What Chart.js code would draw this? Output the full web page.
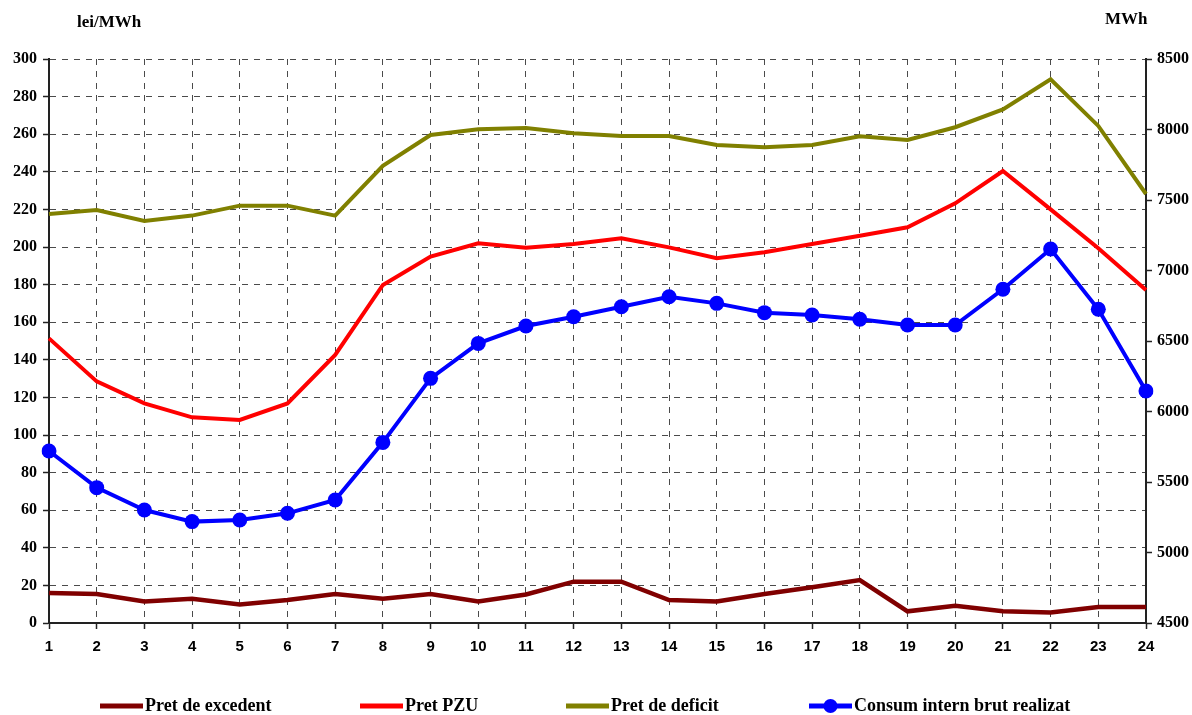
<!DOCTYPE html>
<html>
<head>
<meta charset="utf-8">
<script src="https://cdn.jsdelivr.net/npm/chart.js@4.4.1/dist/chart.umd.min.js"></script>
<style>
  html, body { margin: 0; padding: 0; background: #fff; }
  #wrap { position: relative; width: 1192px; height: 715px; }
</style>
</head>
<body>
<div id="wrap"><canvas id="c" width="1192" height="715"></canvas></div>
<script>
const hours = ['1','2','3','4','5','6','7','8','9','10','11','12','13','14','15','16','17','18','19','20','21','22','23','24'];
const pretExcedent = [16, 15.4, 11.5, 12.9, 9.9, 12.2, 15.4, 12.9, 15.4, 11.5, 15.2, 22, 22, 12.2, 11.5, 15.4, 19, 22.8, 6.2, 9.2, 6.2, 5.6, 8.5, 8.5];
const pretPZU = [151.4, 128.5, 116.8, 109.4, 108, 116.8, 142.6, 179.8, 194.9, 202, 199.6, 201.6, 204.6, 199.8, 194, 197.2, 201.6, 206, 210.5, 223.2, 240.4, 220, 199.3, 177.1];
const pretDeficit = [217.6, 219.7, 213.8, 216.7, 222, 222, 216.7, 243.2, 259.6, 262.6, 263.3, 260.5, 259, 259, 254.3, 253, 254.3, 258.9, 256.9, 263.7, 273.2, 289.2, 264.4, 228.2];
const consumIntern = [5720, 5460, 5301, 5219, 5230, 5278, 5372, 5781, 6235, 6483, 6606, 6672, 6743, 6814, 6767, 6701, 6684, 6654, 6613, 6613, 6867, 7152, 6725, 6145];
const seriesNames = ['Pret de excedent', 'Pret PZU', 'Pret de deficit', 'Consum intern brut realizat'];
const seriesColors = ['#800000', '#FF0000', '#808000', '#0000FF'];
const leftAxisTitle = 'lei/MWh';
const rightAxisTitle = 'MWh';

const serif = '"Liberation Serif", "Times New Roman", serif';
const sans = '"Liberation Sans", Arial, sans-serif';

const extras = {
  id: 'extras',
  afterDraw(chart) {
    const ctx = chart.ctx;
    ctx.save();
    ctx.fillStyle = '#000';
    ctx.font = 'bold 17px ' + serif;
    ctx.textBaseline = 'middle';
    ctx.textAlign = 'left';
    ctx.fillText(leftAxisTitle, 77, 23);
    ctx.fillText(rightAxisTitle, 1105, 20);
    // legend
    ctx.font = 'bold 18px ' + serif;
    const lx = [100, 360, 566, 809];
    const ly = 706;
    for (let i = 0; i < seriesNames.length; i++) {
      ctx.strokeStyle = seriesColors[i];
      ctx.lineWidth = 5;
      ctx.beginPath();
      ctx.moveTo(lx[i], ly);
      ctx.lineTo(lx[i] + 43, ly);
      ctx.stroke();
      if (i === 3) {
        ctx.fillStyle = seriesColors[i];
        ctx.beginPath();
        ctx.arc(lx[i] + 21.5, ly, 7, 0, Math.PI * 2);
        ctx.fill();
      }
      ctx.fillStyle = '#000';
      ctx.fillText(seriesNames[i], lx[i] + 45, ly);
    }
    ctx.restore();
  }
};

const gridColor = '#4a4a4a';

new Chart(document.getElementById('c'), {
  type: 'line',
  data: {
    labels: hours,
    datasets: [
      { label: seriesNames[0], data: pretExcedent, borderColor: seriesColors[0], backgroundColor: seriesColors[0], borderWidth: 4.5, pointRadius: 0, yAxisID: 'y', tension: 0 },
      { label: seriesNames[1], data: pretPZU, borderColor: seriesColors[1], backgroundColor: seriesColors[1], borderWidth: 4, pointRadius: 0, yAxisID: 'y', tension: 0 },
      { label: seriesNames[2], data: pretDeficit, borderColor: seriesColors[2], backgroundColor: seriesColors[2], borderWidth: 4, pointRadius: 0, yAxisID: 'y', tension: 0 },
      { label: seriesNames[3], data: consumIntern, borderColor: seriesColors[3], backgroundColor: seriesColors[3], borderWidth: 4, pointRadius: 7.5, pointBorderWidth: 0, pointBackgroundColor: seriesColors[3], yAxisID: 'y1', tension: 0 }
    ]
  },
  options: {
    responsive: false,
    animation: false,
    layout: { padding: { left: 0, right: 0, top: 59, bottom: 52 } },
    plugins: { legend: { display: false }, tooltip: { enabled: false }, title: { display: false } },
    scales: {
      x: {
        type: 'category',
        offset: false,
        grid: { display: true, color: gridColor, lineWidth: 1, drawTicks: true, tickLength: 6, tickColor: '#222', tickWidth: 1.5 },
        border: { display: true, color: '#222', width: 2, dash: [6, 6] },
        ticks: { color: '#000', font: { family: sans, size: 15, weight: 'bold' }, padding: 9, maxRotation: 0, autoSkip: false },
        afterFit(s) { s.height = 40; }
      },
      y: {
        position: 'left',
        min: 0, max: 300,
        grid: { display: true, color: gridColor, lineWidth: 1, drawTicks: true, tickLength: 6, tickColor: '#222', tickWidth: 1.5 },
        border: { display: true, color: '#222', width: 2, dash: [6, 6] },
        ticks: { stepSize: 20, color: '#000', font: { family: serif, size: 16, weight: 'bold' }, padding: 6 },
        afterFit(s) { s.width = 49; }
      },
      y1: {
        position: 'right',
        min: 4500, max: 8500,
        grid: { display: true, drawOnChartArea: false, drawTicks: true, tickLength: 6, tickColor: '#222', tickWidth: 1.5 },
        border: { display: true, color: '#222', width: 2 },
        ticks: { stepSize: 500, color: '#000', font: { family: serif, size: 16, weight: 'bold' }, padding: 5,
                 callback: (v) => String(v) },
        afterFit(s) { s.width = 46; }
      }
    }
  },
  plugins: [extras]
});
</script>
</body>
</html>
